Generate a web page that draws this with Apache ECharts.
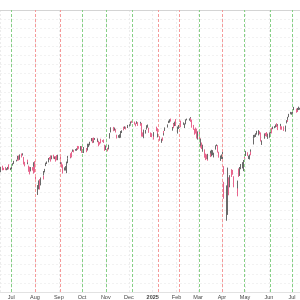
<!DOCTYPE html>
<html><head><meta charset="utf-8">
<script src="https://cdn.jsdelivr.net/npm/echarts@6/dist/echarts.min.js"></script>
<style>html,body{margin:0;padding:0;background:#fff}#c{width:300px;height:300px}</style>
</head><body><div id="c"></div>
<script>
// rows: [day, open, close, low, high]
const jun24 = [[17,5431,5473,5420,5488],[18,5477,5487,5471,5490],[20,5499,5473,5446,5506],[21,5473,5465,5448,5478],[24,5459,5448,5447,5490],[25,5460,5469,5446,5472],[26,5460,5478,5453,5483],[27,5473,5483,5469,5490],[28,5499,5460,5458,5524]];
const jul24 = [[1,5471,5475,5448,5479],[2,5461,5509,5452,5510],[3,5507,5537,5507,5539],[5,5537,5567,5529,5570],[8,5572,5572,5562,5584],[9,5585,5577,5571,5590],[10,5591,5633,5588,5636],[11,5635,5585,5575,5642],[12,5591,5615,5584,5655],[15,5638,5631,5615,5667],[16,5644,5667,5640,5670],[17,5611,5589,5583,5622],[18,5608,5545,5522,5614],[19,5543,5505,5497,5557],[22,5545,5564,5525,5570],[23,5565,5555,5550,5586],[24,5505,5427,5426,5508],[25,5429,5400,5391,5492],[26,5433,5459,5431,5488],[29,5476,5464,5442,5487],[30,5479,5436,5401,5489],[31,5505,5522,5491,5552]];
const aug24 = [[1,5537,5446,5415,5566],[2,5376,5347,5306,5377],[5,5151,5186,5120,5250],[6,5206,5240,5194,5312],[7,5294,5199,5191,5330],[8,5252,5319,5246,5327],[9,5314,5344,5300,5351],[12,5352,5345,5324,5371],[13,5376,5434,5376,5436],[14,5442,5455,5418,5464],[15,5502,5543,5501,5546],[16,5531,5554,5528,5562],[19,5558,5608,5550,5608],[20,5602,5597,5585,5620],[21,5604,5621,5588,5633],[22,5637,5571,5560,5643],[23,5603,5634,5591,5641],[26,5639,5617,5598,5651],[27,5602,5626,5593,5628],[28,5628,5592,5560,5632],[29,5607,5592,5578,5647],[30,5612,5648,5579,5651]];
const sep24 = [[3,5624,5529,5504,5628],[4,5507,5520,5504,5552],[5,5524,5503,5480,5551],[6,5508,5408,5402,5523],[9,5443,5471,5442,5484],[10,5491,5496,5442,5501],[11,5496,5554,5407,5560],[12,5557,5596,5539,5600],[13,5603,5626,5600,5636],[16,5614,5633,5604,5637],[17,5655,5634,5612,5670],[18,5641,5618,5615,5690],[19,5703,5714,5689,5720],[20,5709,5703,5682,5716],[23,5711,5719,5704,5725],[24,5727,5732,5703,5735],[25,5733,5722,5714,5741],[26,5762,5745,5721,5767],[27,5755,5738,5729,5764],[30,5727,5762,5703,5765]];
const oct24 = [[1,5758,5709,5676,5765],[2,5698,5710,5678,5720],[3,5694,5700,5674,5712],[4,5738,5751,5704,5752],[7,5737,5696,5684,5739],[8,5711,5751,5706,5758],[9,5751,5792,5745,5796],[10,5778,5780,5751,5796],[11,5775,5815,5774,5822],[14,5829,5859,5828,5871],[15,5866,5815,5804,5870],[16,5816,5842,5809,5846],[17,5875,5841,5835,5878],[18,5859,5865,5846,5872],[21,5857,5853,5816,5866],[22,5833,5851,5823,5863],[23,5835,5797,5762,5835],[24,5813,5809,5784,5818],[25,5826,5808,5800,5862],[28,5830,5823,5821,5843],[29,5819,5832,5812,5848],[30,5835,5813,5810,5850],[31,5776,5705,5702,5783]];
const nov24 = [[1,5723,5729,5713,5772],[4,5725,5712,5696,5741],[5,5722,5782,5721,5783],[6,5864,5929,5864,5936],[7,5947,5973,5945,5983],[8,5977,5996,5971,6013],[11,6008,6001,5986,6018],[12,6003,5984,5961,6009],[13,5985,5985,5969,6009],[14,5990,5949,5944,5993],[15,5912,5881,5865,5915],[18,5884,5899,5875,5909],[19,5881,5917,5870,5920],[20,5917,5917,5875,5921],[21,5925,5949,5897,5963],[22,5944,5970,5937,5973],[25,5993,5987,5973,6020],[26,6000,6021,5993,6026],[27,6015,5999,5984,6021],[29,6003,6032,6003,6044]];
const dec24 = [[2,6040,6047,6024,6053],[3,6042,6050,6036,6052],[4,6069,6087,6057,6089],[5,6089,6075,6071,6099],[6,6081,6090,6076,6099],[9,6083,6053,6049,6088],[10,6058,6034,6025,6065],[11,6061,6084,6058,6092],[12,6074,6051,6050,6079],[13,6068,6051,6031,6078],[16,6063,6074,6059,6085],[17,6053,6051,6033,6057],[18,6048,5895,5890,6070],[19,5925,5892,5888,5945],[20,5875,5940,5868,5982],[23,5945,5974,5930,5978],[24,5985,6040,5983,6040],[26,6024,6037,6007,6049],[27,6007,5971,5940,6007],[30,5930,5915,5885,5945],[31,5925,5895,5882,5935]];
const jan25 = [[2,5910,5880,5850,5935],[3,5895,5942,5890,5949],[6,5983,5975,5961,6021],[7,5994,5915,5900,6000],[8,5915,5920,5880,5930],[10,5890,5852,5835,5895],[13,5815,5860,5808,5862],[14,5870,5858,5835,5880],[15,5905,5950,5904,5961],[16,5962,5937,5935,5965],[17,5983,5997,5964,6011],[21,6015,6049,6009,6051],[22,6068,6086,6068,6100],[23,6076,6119,6074,6119],[24,6121,6101,6088,6128],[27,5975,6012,5968,6017],[28,6027,6068,6003,6070],[29,6058,6039,6001,6063],[30,6050,6071,6028,6087],[31,6097,6041,6030,6121]];
const feb25 = [[3,5970,5994,5930,6022],[4,6000,6037,5991,6042],[5,6021,6061,6009,6062],[6,6073,6083,6057,6084],[7,6083,6026,6014,6101],[10,6061,6066,6048,6073],[11,6050,6068,6049,6076],[12,6025,6052,6003,6064],[13,6060,6115,6052,6117],[14,6115,6115,6105,6127],[18,6121,6129,6100,6130],[19,6118,6144,6111,6147],[20,6134,6117,6084,6134],[21,6114,6013,6008,6114],[24,6027,5983,5979,6044],[25,5982,5955,5915,5993],[26,5970,5956,5930,6009],[27,5981,5870,5865,5994],[28,5870,5955,5850,5959]];
const mar25 = [[3,5968,5850,5815,5987],[4,5815,5785,5745,5866],[5,5785,5843,5770,5861],[6,5790,5745,5725,5812],[7,5735,5770,5690,5783],[10,5720,5645,5612,5722],[11,5640,5605,5580,5665],[12,5630,5620,5592,5655],[13,5615,5585,5572,5628],[14,5592,5655,5590,5662],[17,5650,5680,5640,5704],[18,5665,5630,5620,5668],[19,5640,5678,5630,5716],[20,5655,5665,5645,5711],[21,5640,5670,5615,5678],[24,5718,5768,5718,5775],[25,5775,5777,5765,5787],[26,5771,5712,5700,5777],[27,5700,5693,5680,5732],[28,5685,5625,5612,5690],[31,5590,5635,5570,5640]];
const apr25 = [[1,5620,5645,5595,5655],[2,5600,5671,5590,5696],[3,5493,5397,5390,5500],[4,5293,5074,5070,5293],[7,4953,5062,4780,5246],[8,5194,4982,4910,5267],[9,4966,5457,4857,5481],[10,5353,5268,5116,5353],[11,5255,5363,5221,5381],[14,5441,5406,5358,5460],[15,5412,5397,5387,5450],[16,5335,5276,5221,5367],[17,5305,5283,5245,5328],[21,5232,5158,5102,5232],[22,5207,5288,5207,5310],[23,5395,5376,5358,5470],[24,5381,5485,5371,5489],[25,5490,5525,5460,5528],[28,5529,5529,5470,5553],[29,5508,5561,5505,5566],[30,5499,5569,5434,5581]];
const may25 = [[1,5626,5604,5598,5659],[2,5645,5687,5634,5700],[5,5655,5650,5633,5683],[6,5605,5607,5594,5639],[7,5614,5631,5588,5654],[8,5663,5664,5651,5721],[9,5679,5660,5643,5692],[12,5807,5860,5786,5862],[13,5865,5896,5860,5912],[14,5896,5902,5878,5915],[15,5895,5926,5885,5934],[16,5935,5965,5917,5966],[19,5912,5970,5905,5975],[20,5952,5948,5920,5962],[21,5920,5858,5845,5945],[22,5855,5855,5825,5888],[23,5795,5815,5780,5840],[27,5865,5930,5862,5932],[28,5932,5900,5896,5938],[29,5945,5922,5888,5950],[30,5912,5920,5860,5930]];
const jun25 = [[2,5905,5945,5875,5946],[3,5945,5978,5930,5985],[4,5985,5980,5975,5996],[5,5992,5950,5932,6006],[6,5995,6008,5988,6022],[9,6012,6014,6000,6028],[10,6016,6045,6010,6050],[11,6055,6030,6016,6066],[12,6018,6052,6012,6054],[13,6005,5990,5975,6034],[16,6012,6040,6010,6058],[17,6020,5992,5982,6030],[18,5995,5990,5980,6025],[20,6006,5978,5965,6025],[23,5980,6032,5955,6035],[24,6068,6098,6064,6106],[25,6108,6098,6084,6112],[26,6112,6145,6110,6150],[27,6155,6176,6146,6190],[30,6195,6205,6184,6216]];
const jul25 = [[1,6190,6198,6178,6212],[2,6194,6227,6190,6230],[3,6239,6275,6239,6282],[7,6256,6230,6205,6260],[8,6234,6226,6214,6242],[9,6238,6260,6236,6268],[10,6262,6276,6240,6285],[11,6255,6262,6244,6270]];

const monthBlocks = [['2024-06',jun24],['2024-07',jul24],['2024-08',aug24],['2024-09',sep24],['2024-10',oct24],['2024-11',nov24],['2024-12',dec24],['2025-01',jan25],['2025-02',feb25],['2025-03',mar25],['2025-04',apr25],['2025-05',may25],['2025-06',jun25],['2025-07',jul25]];

// dotted marker lines and their colours
const markerDates  = ['2024-07-01','2024-08-01','2024-09-03','2024-10-01','2024-11-01','2024-12-06','2025-01-08','2025-02-04','2025-03-03','2025-04-02','2025-04-30','2025-06-03','2025-07-01'];
const markerColors = ['g','r','r','g','g','g','r','r','g','r','g','g','g'];

const data = [];
monthBlocks.forEach(([ym, rows]) => {
  rows.forEach(r => {
    const d = ym + '-' + String(r[0]).padStart(2,'0');
    data.push([d, r[1], r[2], r[3], r[4]]);
  });
});

const GREEN = '#86d086', RED = '#f59a9a';
const chart = echarts.init(document.getElementById('c'), null, {renderer:'canvas'});
chart.setOption({
  animation: false,
  backgroundColor: '#fff',
  grid: {left: 0, right: 0, top: 10, bottom: 8, containLabel: false},
  xAxis: [{
    type: 'time',
    min: '2024-06-16T12:00:00',
    max: '2025-07-11T12:00:00',
    splitNumber: 13,
    minInterval: 27*864e5,
    maxInterval: 32*864e5,
    axisLine: {show: true, lineStyle: {color: '#e2e2e2'}},
    axisTick: {show: false},
    axisLabel: {fontSize: 5.5, color: '#444', margin: 2, hideOverlap: false},
    splitLine: {show: true, lineStyle: {color: '#ececec', type: [2,2]}}
  },{
    type: 'value', position: 'top', min: 0, max: 1,
    axisLine: {show: true, lineStyle: {color: '#d4d4d4'}},
    axisTick: {show: false}, axisLabel: {show: false}, splitLine: {show: false}
  }],
  yAxis: {
    type: 'value', min: 3840, max: 7560, interval: 120,
    axisLine: {show: false}, axisTick: {show: false}, axisLabel: {show: false},
    splitLine: {show: true, lineStyle: {color: '#f2f2f2', type: [2,2]}}
  },
  series: [{
    type: 'candlestick',
    xAxisIndex: 0,
    data: data,
    encode: {x: 0, y: [1,2,3,4]},
    barWidth: 1,
    itemStyle: {color: '#6a6a6a', borderColor: '#6a6a6a', color0: '#e8668e', borderColor0: '#e8668e', borderWidth: 1},
    markLine: {
      silent: true, symbol: ['none','none'], label: {show: false},
      lineStyle: {type: [3,2], width: 1},
      data: markerDates.map((d,i) => ({xAxis: d, lineStyle: {color: markerColors[i]==='g' ? GREEN : RED, type: [3,2], width: 1}}))
    }
  }]
});
</script></body></html>
